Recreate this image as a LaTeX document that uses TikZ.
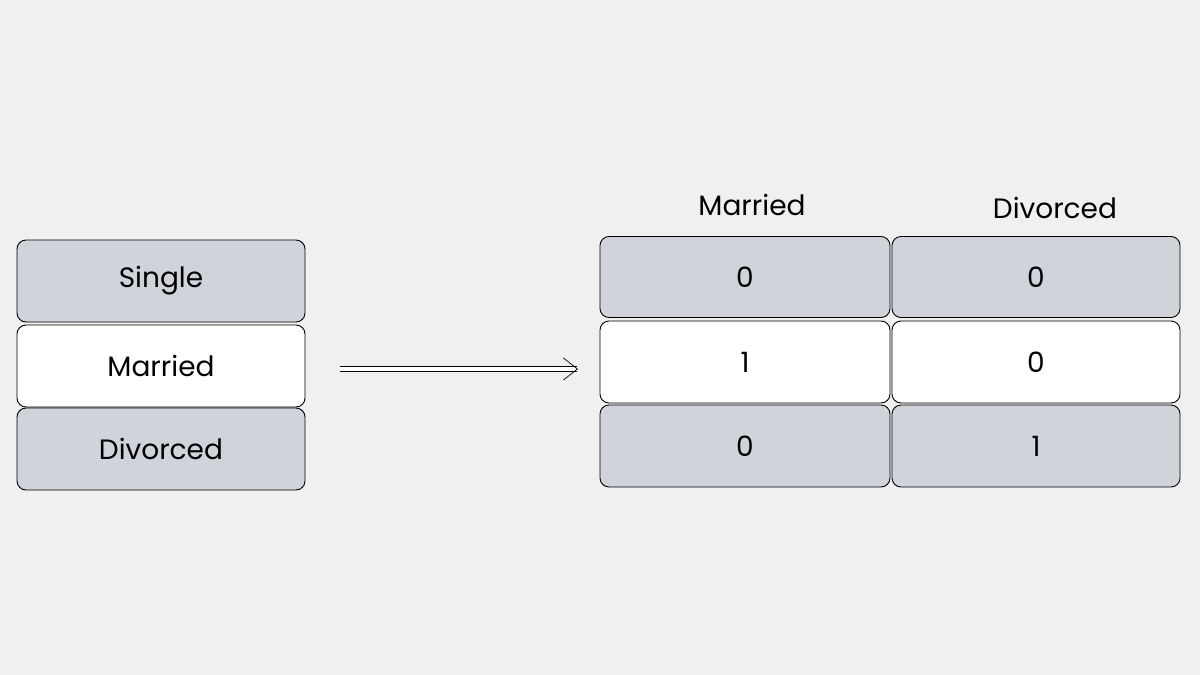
\documentclass[tikz,border=0pt]{standalone}
\usepackage{fontspec}
\setmainfont{Poppins}
\usetikzlibrary{arrows.meta}
\definecolor{bg}{HTML}{F0F0F0}
\definecolor{cell}{HTML}{D0D4DA}
\tikzset{
  x=1pt,y=-1pt,
  cellbox/.style={draw=black,line width=0.9pt,rounded corners=9pt,minimum width=#1,inner sep=0pt,font=\fontsize{28}{32}\selectfont},
  cellbox/.default=288pt,
  gray/.style={fill=cell},
  white/.style={fill=white},
  hdr/.style={font=\fontsize{28}{32}\selectfont}
}
\begin{document}
\begin{tikzpicture}
\fill[bg] (0,0) rectangle (1200,675);
\useasboundingbox (0,0) rectangle (1200,675);
% left column
\node[cellbox=288pt,gray,minimum height=82pt] (s) at (161,281) {Single};
\node[cellbox=288pt,white,minimum height=82pt] (m) at (161,366) {Married};
\node[cellbox=288pt,gray,minimum height=82pt] (d) at (161,449) {Divorced};
% headers
\node[hdr] (hm) at (752,205) {Married};
\node[hdr] (hd) at (1055,208) {Divorced};
% right table
\node[cellbox=290pt,gray,minimum height=81pt] (a1) at (745,277) {0};
\node[cellbox=288pt,gray,minimum height=81pt] (b1) at (1036,277) {0};
\node[cellbox=290pt,white,minimum height=82pt] (a2) at (745,362) {1};
\node[cellbox=288pt,white,minimum height=82pt] (b2) at (1036,362) {0};
\node[cellbox=290pt,gray,minimum height=82pt] (a3) at (745,446) {0};
\node[cellbox=288pt,gray,minimum height=82pt] (b3) at (1036,446) {1};
% arrow
\coordinate (p) at (340,369);
\coordinate (q) at (578,369);
\draw[double,double distance=4pt,line width=0.7pt,-{Straight Barb[length=14pt,width=22pt]}] (p) -- (q);
\end{tikzpicture}
\end{document}
